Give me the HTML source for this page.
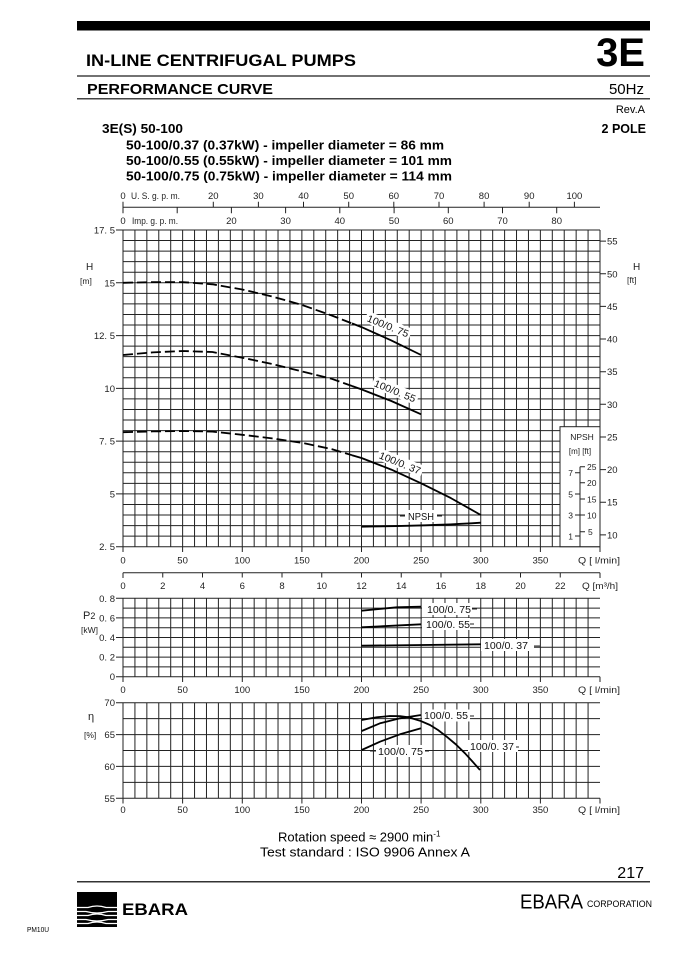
<!DOCTYPE html>
<html><head><meta charset="utf-8"><style>
html,body{margin:0;padding:0;background:#fff;}
svg{display:block;}
text{font-family:"Liberation Sans",Arial,sans-serif;}
.t{font-size:9.5px;fill:#222;}
.lb{font-size:10px;fill:#111;}
</style></head><body>
<svg width="678" height="959" viewBox="0 0 678 959" xmlns="http://www.w3.org/2000/svg">
<rect x="0" y="0" width="678" height="959" fill="#fff"/>

<!-- HEADER -->
<rect x="77" y="21" width="573" height="9.5" fill="#000"/>
<text x="86" y="66" font-size="17" font-weight="bold" textLength="270" lengthAdjust="spacingAndGlyphs">IN-LINE CENTRIFUGAL PUMPS</text>
<text x="645" y="66" font-size="40" font-weight="bold" text-anchor="end">3E</text>
<line x1="77" y1="76" x2="650" y2="76" stroke="#444" stroke-width="1.5"/>
<text x="87" y="94" font-size="15" font-weight="bold" textLength="186" lengthAdjust="spacingAndGlyphs">PERFORMANCE CURVE</text>
<text x="644" y="94" font-size="15" text-anchor="end">50Hz</text>
<line x1="77" y1="98.7" x2="650" y2="98.7" stroke="#444" stroke-width="1.5"/>
<text x="645" y="113" font-size="11" text-anchor="end">Rev.A</text>
<text x="102" y="133" font-size="12.5" font-weight="bold" textLength="81" lengthAdjust="spacingAndGlyphs">3E(S) 50-100</text>
<text x="646" y="133" font-size="12.5" font-weight="bold" text-anchor="end">2 POLE</text>
<text x="126" y="149.5" font-size="12.5" font-weight="bold" textLength="318" lengthAdjust="spacingAndGlyphs">50-100/0.37 (0.37kW) - impeller diameter = 86 mm</text>
<text x="126" y="165" font-size="12.5" font-weight="bold" textLength="326" lengthAdjust="spacingAndGlyphs">50-100/0.55 (0.55kW) - impeller diameter = 101 mm</text>
<text x="126" y="180.5" font-size="12.5" font-weight="bold" textLength="326" lengthAdjust="spacingAndGlyphs">50-100/0.75 (0.75kW) - impeller diameter = 114 mm</text>

<!-- TOP FLOW AXES -->
<g stroke="#222" stroke-width="1" fill="none">
<line x1="123" y1="207.3" x2="600" y2="207.3"/>
<line x1="123" y1="201.7" x2="123" y2="213.3"/>
<path d="M213.3,201.7V207.3M258.4,201.7V207.3M303.5,201.7V207.3M348.7,201.7V207.3M393.8,201.7V207.3M439,201.7V207.3M484.1,201.7V207.3M529.2,201.7V207.3M574.4,201.7V207.3"/>
<path d="M177.2,207.3V213.3M231.4,207.3V213.3M285.6,207.3V213.3M339.8,207.3V213.3M394.1,207.3V213.3M448.3,207.3V213.3M502.5,207.3V213.3M556.7,207.3V213.3"/>
</g>
<g class="t" text-anchor="middle">
<text x="123" y="199">0</text>
<text x="213.3" y="199">20</text><text x="258.4" y="199">30</text><text x="303.5" y="199">40</text><text x="348.7" y="199">50</text><text x="393.8" y="199">60</text><text x="439" y="199">70</text><text x="484.1" y="199">80</text><text x="529.2" y="199">90</text><text x="574.4" y="199">100</text>
<text x="123" y="224">0</text>
<text x="231.4" y="224">20</text><text x="285.6" y="224">30</text><text x="339.8" y="224">40</text><text x="394.1" y="224">50</text><text x="448.3" y="224">60</text><text x="502.5" y="224">70</text><text x="556.7" y="224">80</text>
</g>
<text class="t" x="131" y="199" font-size="9" textLength="49" lengthAdjust="spacingAndGlyphs">U. S. g. p. m.</text>
<text class="t" x="132" y="224" font-size="9" textLength="46" lengthAdjust="spacingAndGlyphs">Imp. g. p. m.</text>

<!-- GRIDS -->
<g stroke="#222" stroke-width="1" fill="none">
<path d="M123,230v316.7m11.925,-316.7v316.7m11.925,-316.7v316.7m11.925,-316.7v316.7m11.925,-316.7v316.7m11.925,-316.7v316.7m11.925,-316.7v316.7m11.925,-316.7v316.7m11.925,-316.7v316.7m11.925,-316.7v316.7m11.925,-316.7v316.7m11.925,-316.7v316.7m11.925,-316.7v316.7m11.925,-316.7v316.7m11.925,-316.7v316.7m11.925,-316.7v316.7m11.925,-316.7v316.7m11.925,-316.7v316.7m11.925,-316.7v316.7m11.925,-316.7v316.7m11.925,-316.7v316.7m11.925,-316.7v316.7m11.925,-316.7v316.7m11.925,-316.7v316.7m11.925,-316.7v316.7m11.925,-316.7v316.7m11.925,-316.7v316.7m11.925,-316.7v316.7m11.925,-316.7v316.7m11.925,-316.7v316.7m11.925,-316.7v316.7m11.925,-316.7v316.7m11.925,-316.7v316.7m11.925,-316.7v316.7m11.925,-316.7v316.7m11.925,-316.7v316.7m11.925,-316.7v316.7m11.925,-316.7v316.7m11.925,-316.7v316.7m11.925,-316.7v316.7m11.925,-316.7v316.7"/>
<path d="M123,230h477m-477,10.557h477m-477,10.557h477m-477,10.557h477m-477,10.557h477m-477,10.557h477m-477,10.557h477m-477,10.557h477m-477,10.557h477m-477,10.557h477m-477,10.557h477m-477,10.557h477m-477,10.557h477m-477,10.557h477m-477,10.557h477m-477,10.557h477m-477,10.557h477m-477,10.557h477m-477,10.557h477m-477,10.557h477m-477,10.557h477m-477,10.557h477m-477,10.557h477m-477,10.557h477m-477,10.557h477m-477,10.557h477m-477,10.557h477m-477,10.557h477m-477,10.557h477m-477,10.557h477m-477,10.557h477"/>
<path d="M123,598.3v78.4m11.925,-78.4v78.4m11.925,-78.4v78.4m11.925,-78.4v78.4m11.925,-78.4v78.4m11.925,-78.4v78.4m11.925,-78.4v78.4m11.925,-78.4v78.4m11.925,-78.4v78.4m11.925,-78.4v78.4m11.925,-78.4v78.4m11.925,-78.4v78.4m11.925,-78.4v78.4m11.925,-78.4v78.4m11.925,-78.4v78.4m11.925,-78.4v78.4m11.925,-78.4v78.4m11.925,-78.4v78.4m11.925,-78.4v78.4m11.925,-78.4v78.4m11.925,-78.4v78.4m11.925,-78.4v78.4m11.925,-78.4v78.4m11.925,-78.4v78.4m11.925,-78.4v78.4m11.925,-78.4v78.4m11.925,-78.4v78.4m11.925,-78.4v78.4m11.925,-78.4v78.4m11.925,-78.4v78.4m11.925,-78.4v78.4m11.925,-78.4v78.4m11.925,-78.4v78.4m11.925,-78.4v78.4m11.925,-78.4v78.4m11.925,-78.4v78.4m11.925,-78.4v78.4m11.925,-78.4v78.4m11.925,-78.4v78.4m11.925,-78.4v78.4"/>
<path d="M123,598.3h477m-477,9.8h477m-477,9.8h477m-477,9.8h477m-477,9.8h477m-477,9.8h477m-477,9.8h477m-477,9.8h477m-477,9.8h477"/>
<path d="M123,702.7v95.6m11.925,-95.6v95.6m11.925,-95.6v95.6m11.925,-95.6v95.6m11.925,-95.6v95.6m11.925,-95.6v95.6m11.925,-95.6v95.6m11.925,-95.6v95.6m11.925,-95.6v95.6m11.925,-95.6v95.6m11.925,-95.6v95.6m11.925,-95.6v95.6m11.925,-95.6v95.6m11.925,-95.6v95.6m11.925,-95.6v95.6m11.925,-95.6v95.6m11.925,-95.6v95.6m11.925,-95.6v95.6m11.925,-95.6v95.6m11.925,-95.6v95.6m11.925,-95.6v95.6m11.925,-95.6v95.6m11.925,-95.6v95.6m11.925,-95.6v95.6m11.925,-95.6v95.6m11.925,-95.6v95.6m11.925,-95.6v95.6m11.925,-95.6v95.6m11.925,-95.6v95.6m11.925,-95.6v95.6m11.925,-95.6v95.6m11.925,-95.6v95.6m11.925,-95.6v95.6m11.925,-95.6v95.6m11.925,-95.6v95.6m11.925,-95.6v95.6m11.925,-95.6v95.6m11.925,-95.6v95.6m11.925,-95.6v95.6m11.925,-95.6v95.6"/>
<path d="M123,702.7h477m-477,15.933h477m-477,15.933h477m-477,15.933h477m-477,15.933h477m-477,15.933h477m-477,15.933h477"/>

<!-- left ticks -->
<path d="M116,230H123M116,282.8H123M116,335.6H123M116,388.4H123M116,441.1H123M116,493.9H123M116,546.7H123"/>
<path d="M116,598.3H123M116,617.9H123M116,637.5H123M116,657.1H123M116,676.7H123"/>
<path d="M116,702.7H123M116,734.6H123M116,766.4H123M116,798.3H123"/>
<!-- right ft ticks -->
<path d="M600,241.1H606M600,273.8H606M600,306.4H606M600,339H606M600,371.7H606M600,404.3H606M600,437H606M600,469.6H606M600,502.2H606M600,534.9H606"/>
<!-- bottom ticks -->
<path d="M123,546.7V552M182.6,546.7V552M242.3,546.7V552M301.9,546.7V552M361.5,546.7V552M421.1,546.7V552M480.8,546.7V552M540.4,546.7V552M600,546.7V552"/>
<path d="M123,676.7V682M182.6,676.7V682M242.3,676.7V682M301.9,676.7V682M361.5,676.7V682M421.1,676.7V682M480.8,676.7V682M540.4,676.7V682M600,676.7V682"/>
<path d="M123,798.3V803.5M182.6,798.3V803.5M242.3,798.3V803.5M301.9,798.3V803.5M361.5,798.3V803.5M421.1,798.3V803.5M480.8,798.3V803.5M540.4,798.3V803.5M600,798.3V803.5"/>
<!-- m3/h axis -->
<line x1="123" y1="572.7" x2="600" y2="572.7"/>
<path d="M123,572.7V578M162.75,572.7V577.5M202.5,572.7V577.5M242.25,572.7V577.5M282,572.7V577.5M321.75,572.7V577.5M361.5,572.7V577.5M401.25,572.7V577.5M441,572.7V577.5M480.75,572.7V577.5M520.5,572.7V577.5M560.25,572.7V577.5M600,572.7V578"/>
</g>

<!-- axis labels -->
<g class="t" text-anchor="end">
<text x="115" y="233.5">17. 5</text><text x="115" y="286.3">15</text><text x="115" y="339.1">12. 5</text><text x="115" y="391.9">10</text><text x="115" y="444.6">7. 5</text><text x="115" y="497.4">5</text><text x="115" y="550.2">2. 5</text>
<text x="115" y="601.8">0. 8</text><text x="115" y="621.4">0. 6</text><text x="115" y="641">0. 4</text><text x="115" y="660.6">0. 2</text><text x="115" y="680.2">0</text>
<text x="115" y="706.2">70</text><text x="115" y="738.1">65</text><text x="115" y="769.9">60</text><text x="115" y="801.8">55</text>
</g>
<g class="t">
<text x="607" y="244.6">55</text><text x="607" y="277.3">50</text><text x="607" y="309.9">45</text><text x="607" y="342.5">40</text><text x="607" y="375.2">35</text><text x="607" y="407.8">30</text><text x="607" y="440.5">25</text><text x="607" y="473.1">20</text><text x="607" y="505.7">15</text><text x="607" y="538.4">10</text>
<text x="86" y="270" font-size="10">H</text>
<text x="80" y="284" font-size="8.5">[m]</text>
<text x="633" y="270" font-size="10">H</text>
<text x="627" y="283" font-size="8.5">[ft]</text>
<text x="83" y="619" font-size="11">P<tspan font-size="9">2</tspan></text>
<text x="81" y="633" font-size="8.5">[kW]</text>
<text x="88" y="720" font-size="11">η</text>
<text x="84" y="738" font-size="8.5">[%]</text>
</g>
<g class="t" text-anchor="middle">
<text x="123" y="563.5">0</text><text x="182.6" y="563.5">50</text><text x="242.3" y="563.5">100</text><text x="301.9" y="563.5">150</text><text x="361.5" y="563.5">200</text><text x="421.1" y="563.5">250</text><text x="480.8" y="563.5">300</text><text x="540.4" y="563.5">350</text>
<text x="599" y="563.5" textLength="42" lengthAdjust="spacingAndGlyphs">Q [ l/min]</text>
<text x="123" y="589">0</text><text x="162.75" y="589">2</text><text x="202.5" y="589">4</text><text x="242.25" y="589">6</text><text x="282" y="589">8</text><text x="321.75" y="589">10</text><text x="361.5" y="589">12</text><text x="401.25" y="589">14</text><text x="441" y="589">16</text><text x="480.75" y="589">18</text><text x="520.5" y="589">20</text><text x="560.25" y="589">22</text>
<text x="600" y="589" textLength="36" lengthAdjust="spacingAndGlyphs">Q [m³/h]</text>
<text x="123" y="693">0</text><text x="182.6" y="693">50</text><text x="242.3" y="693">100</text><text x="301.9" y="693">150</text><text x="361.5" y="693">200</text><text x="421.1" y="693">250</text><text x="480.8" y="693">300</text><text x="540.4" y="693">350</text>
<text x="599" y="693" textLength="42" lengthAdjust="spacingAndGlyphs">Q [ l/min]</text>
<text x="123" y="813">0</text><text x="182.6" y="813">50</text><text x="242.3" y="813">100</text><text x="301.9" y="813">150</text><text x="361.5" y="813">200</text><text x="421.1" y="813">250</text><text x="480.8" y="813">300</text><text x="540.4" y="813">350</text>
<text x="599" y="813" textLength="42" lengthAdjust="spacingAndGlyphs">Q [ l/min]</text>
</g>

<!-- NPSH inset -->
<rect x="560" y="426.7" width="40" height="120" fill="#fff" stroke="#222" stroke-width="1"/>
<g stroke="#222" stroke-width="1" fill="none">
<path d="M580,466.7V546.7M575,472.7H580M575,494H580M575,515H580M575,536H580M580,466.7H585M580,482.7H585M580,499H585M580,515H585M580,531.7H585"/>
</g>
<g class="t" font-size="8.5">
<text x="582" y="440" text-anchor="middle" font-size="8.5">NPSH</text>
<text x="580" y="454" text-anchor="middle" font-size="8">[m] [ft]</text>
<text x="573" y="476" text-anchor="end" font-size="8.5">7</text>
<text x="573" y="497.3" text-anchor="end" font-size="8.5">5</text>
<text x="573" y="518.3" text-anchor="end" font-size="8.5">3</text>
<text x="573" y="539.3" text-anchor="end" font-size="8.5">1</text>
<text x="587" y="470" font-size="8.5">25</text>
<text x="587" y="486" font-size="8.5">20</text>
<text x="587" y="502.3" font-size="8.5">15</text>
<text x="587" y="518.3" font-size="8.5">10</text>
<text x="588" y="535" font-size="8.5">5</text>
</g>

<!-- MAIN CURVES -->
<g stroke="#000" stroke-width="1.8" fill="none" stroke-linejoin="round">
<polyline stroke-dasharray="10 4" points="123,282.8 152.8,282.1 182.6,282.1 212.4,284.3 242.3,289.5 272.1,296.5 301.9,304.9 331.7,315.5 352,323.4"/>
<polyline points="352,323.4 361.5,327.1 391.3,340.4 421.1,355"/>
<polyline stroke-dasharray="10 4" points="123,355 152.8,352.4 182.6,351 212.4,352 242.3,357.7 272.1,364 301.9,371.4 331.7,378.8 352,386"/>
<polyline points="352,386 361.5,389.4 391.3,401 421.1,414.3"/>
<polyline stroke-dasharray="10 4" points="123,432.2 152.8,431.4 182.6,431 212.4,431.6 242.3,434.8 272.1,438.4 301.9,442.8 331.7,449.1 352,455.2"/>
<polyline points="352,455.2 361.5,458 391.3,469.6 421.1,483.3 450.9,498.1 480.8,515"/>
<path d="M361.5,526.7 Q440,525.6 480.8,522.7"/>
</g>
<!-- main labels -->
<g transform="translate(388,326) rotate(22)">
<rect x="-24" y="-6.5" width="48" height="12" fill="#fff"/>
<text class="lb" x="0" y="3.5" text-anchor="middle" textLength="44" lengthAdjust="spacingAndGlyphs">100/0. 75</text>
</g>
<g transform="translate(395,391) rotate(22)">
<rect x="-24" y="-6.5" width="48" height="12" fill="#fff"/>
<text class="lb" x="0" y="3.5" text-anchor="middle" textLength="44" lengthAdjust="spacingAndGlyphs">100/0. 55</text>
</g>
<g transform="translate(400,463) rotate(22)">
<rect x="-24" y="-6.5" width="48" height="12" fill="#fff"/>
<text class="lb" x="0" y="3.5" text-anchor="middle" textLength="44" lengthAdjust="spacingAndGlyphs">100/0. 37</text>
</g>
<rect x="405" y="510" width="32" height="12" fill="#fff"/>
<g stroke="#222" stroke-width="1"><line x1="400" y1="516" x2="405" y2="516"/><line x1="437" y1="516" x2="442" y2="516"/></g>
<text class="lb" x="421" y="520" text-anchor="middle" textLength="26" lengthAdjust="spacingAndGlyphs">NPSH</text>

<!-- POWER CURVES -->
<g stroke="#000" stroke-width="1.8" fill="none" stroke-linejoin="round">
<polyline points="361.5,610.7 396.7,607.3 421.1,606.7"/>
<polyline points="361.5,627.3 421.1,624.3"/>
<polyline points="361.5,645.7 480.8,644.3"/>
</g>
<rect x="422" y="603" width="50" height="12" fill="#fff"/>
<rect x="422" y="618" width="48" height="12" fill="#fff"/>
<rect x="481" y="639" width="53" height="12" fill="#fff"/>
<g stroke="#222" stroke-width="1"><line x1="472" y1="609" x2="477" y2="609"/><line x1="470" y1="624" x2="474" y2="624"/><line x1="534" y1="646" x2="540" y2="646"/></g>
<text class="lb" x="427" y="613" textLength="44" lengthAdjust="spacingAndGlyphs">100/0. 75</text>
<text class="lb" x="426" y="628" textLength="44" lengthAdjust="spacingAndGlyphs">100/0. 55</text>
<text class="lb" x="484" y="649" textLength="44" lengthAdjust="spacingAndGlyphs">100/0. 37</text>

<!-- EFFICIENCY CURVES -->
<g stroke="#000" stroke-width="1.8" fill="none" stroke-linejoin="round">
<polyline points="361.7,731 380,723.3 400,718.3 421,715"/>
<polyline points="361.7,750 380,741.7 400,734.3 421,728.3"/>
</g>
<rect x="422" y="709.5" width="48" height="12" fill="#fff"/>
<rect x="468" y="740" width="50" height="12" fill="#fff"/>
<rect x="376" y="745" width="49" height="12" fill="#fff"/>
<g stroke="#000" stroke-width="1.8" fill="none" stroke-linejoin="round">
<polyline points="361.7,720 376.7,717.3 390,716 400,716.2 408.3,717.3 420,720.7 430,725 438,730 446.7,736.7 456,744.5 465,753.3 472,761 480,770"/>
</g>
<g stroke="#222" stroke-width="1"><line x1="370" y1="751" x2="376" y2="751"/><line x1="425" y1="751" x2="429" y2="751"/><line x1="470" y1="716" x2="474" y2="716"/><line x1="516" y1="747" x2="519" y2="747"/></g>
<text class="lb" x="424" y="719" textLength="44" lengthAdjust="spacingAndGlyphs">100/0. 55</text>
<text class="lb" x="470" y="750" textLength="44" lengthAdjust="spacingAndGlyphs">100/0. 37</text>
<text class="lb" x="378" y="755" textLength="45" lengthAdjust="spacingAndGlyphs">100/0. 75</text>

<!-- FOOTER -->
<text x="278" y="841.5" font-size="13">Rotation speed ≈ 2900 min<tspan font-size="8" dy="-5">-1</tspan></text>
<text x="260" y="856.5" font-size="13" textLength="210" lengthAdjust="spacingAndGlyphs">Test standard : ISO 9906 Annex A</text>
<text x="644" y="878" font-size="16" text-anchor="end">217</text>
<line x1="77" y1="881.7" x2="650" y2="881.7" stroke="#333" stroke-width="1.5"/>
<rect x="77" y="892" width="40" height="35" fill="#000"/>
<g stroke="#fff" stroke-width="1.3" fill="none">
<path d="M77,907.5 H88 Q97,904.5 106,907.5 H117"/>
<path d="M77,911.5 H86 Q97,914.5 108,911.5 H117"/>
<path d="M77,915.5 H88 Q97,912.5 106,915.5 H117"/>
<path d="M77,919.5 H86 Q97,922.5 108,919.5 H117"/>
<path d="M77,923.5 H88 Q97,920.5 106,923.5 H117"/>
</g>
<text x="122" y="915" font-size="17" font-weight="900" textLength="66" lengthAdjust="spacingAndGlyphs">EBARA</text>
<text x="520" y="908.3" font-size="20.5" textLength="63" lengthAdjust="spacingAndGlyphs">EBARA</text>
<text x="587" y="907" font-size="9.5" textLength="65" lengthAdjust="spacingAndGlyphs">CORPORATION</text>
<text x="27" y="932" font-size="7" textLength="22" lengthAdjust="spacingAndGlyphs">PM10U</text>
</svg>
</body></html>
